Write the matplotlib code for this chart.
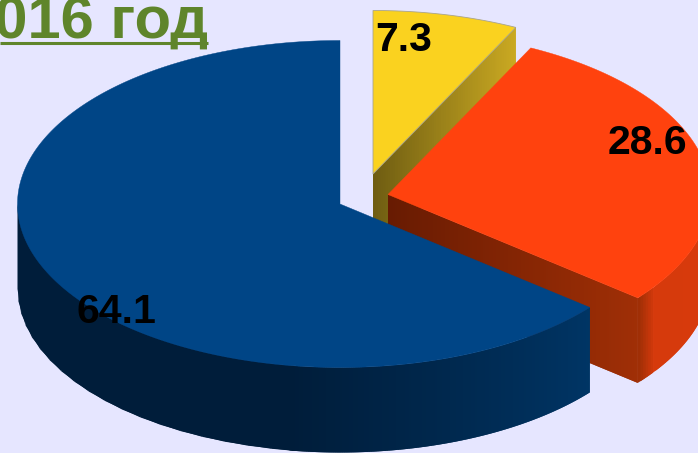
import numpy as np
import matplotlib
matplotlib.use('Agg')
import matplotlib.pyplot as plt
from matplotlib.colors import to_rgb
from matplotlib.patches import Polygon

plt.rcParams['font.family'] = ['Liberation Sans', 'DejaVu Sans']

# DATA
title = '2016 год'
labels = ['64.1', '28.6', '7.3']
values = [64.1, 28.6, 7.3]

# STYLE
BG = '#e6e6ff'
TOP = ['#004586', '#ff420e', '#fad21f']
APEX = [(340, 204), (388, 194.5), (373, 174)]
LABEL_POS = [(116, 323), (647, 154), (404, 51)]
RX, RY, DEPTH = 322.5, 163.5, 85


def lerp(c1, c2, t):
    a, b = np.array(to_rgb(c1)), np.array(to_rgb(c2))
    return tuple(a + (b - a) * t)


def rim(apex, a1, a2, n=200):
    t = np.radians(np.linspace(a1, a2, n))
    return np.column_stack([apex[0] + RX * np.cos(t), apex[1] - RY * np.sin(t)])


def side_strips(ax, pts, c1, c2, zorder):
    # side wall as thin quads, each one runs under the next so no seams show
    n = len(pts) - 1
    for i in range(n):
        p, q = pts[i], pts[min(i + 2, n)]
        quad = [p, q, (q[0], q[1] + DEPTH), (p[0], p[1] + DEPTH)]
        ax.add_patch(Polygon(quad, closed=True, fc=lerp(c1, c2, i / n), ec='none', zorder=zorder))


# angles come from the values, blue starts at 12 o'clock and goes counter clockwise
spans = np.array(values) / sum(values) * 360
start = 90 + np.concatenate([[0], np.cumsum(spans)[:-1]])
end = start + spans

fig = plt.figure(figsize=(6.98, 4.53), dpi=100, facecolor=BG)
ax = fig.add_axes([0, 0, 1, 1])
ax.set_xlim(0, 698)
ax.set_ylim(453, 0)
ax.axis('off')

# YELLOW
y_pts = rim(APEX[2], start[2], end[2])
side_strips(ax, np.linspace(APEX[2], y_pts[0], 60), '#6f5d12', '#cbaa22', 1)
ax.add_patch(Polygon(np.vstack([APEX[2], y_pts]), closed=True, fc=TOP[2],
                     ec='#a9a48c', lw=0.6, zorder=2))

# ORANGE
r_pts = rim(APEX[1], start[1], end[1])
side_strips(ax, np.linspace(APEX[1], r_pts[0], 120), '#681b02', '#a02f06', 3)
wall = rim(APEX[1], start[1], 365, 60)
side_strips(ax, wall[:7], '#a02f06', '#d63a0c', 3)
side_strips(ax, wall[6:], '#d63a0c', '#d8390b', 3)
ax.add_patch(Polygon(np.vstack([APEX[1], r_pts]), closed=True, fc=TOP[1], ec=TOP[1],
                     lw=0.3, zorder=4))

# BLUE
b_pts = rim(APEX[0], start[0], end[0], 400)
side_strips(ax, rim(APEX[0], 180, 262, 20), '#001d3a', '#001d3a', 5)
side_strips(ax, rim(APEX[0], 261, end[0], 150), '#001d3a', '#003565', 5)
ax.add_patch(Polygon(np.vstack([APEX[0], b_pts]), closed=True, fc=TOP[0], ec=TOP[0],
                     lw=0.3, zorder=6))

# LABELS
for lab, (x, y) in zip(labels, LABEL_POS):
    ax.text(x, y, lab, fontsize=29.5, fontweight='bold', color='black',
            ha='center', va='baseline', zorder=10)

# TITLE, the first digit runs off the left edge like in the source
ax.text(208, 38, title, fontsize=43, fontweight='bold', color='#5f852b',
        ha='right', va='baseline', zorder=10)
ax.plot([0, 208], [42.5, 42.5], color='#5f852b', lw=2.2, solid_capstyle='butt', zorder=10)

fig.savefig('out.png', dpi=100, facecolor=BG)
